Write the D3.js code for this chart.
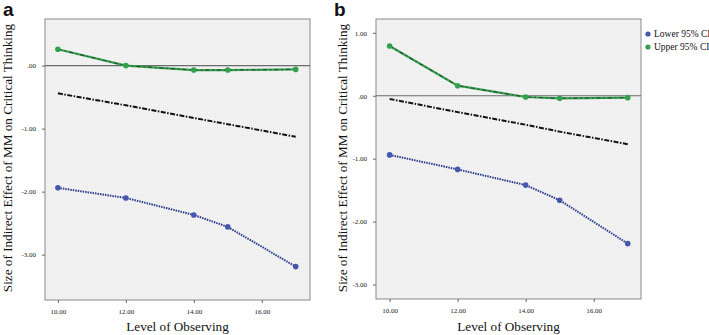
<!DOCTYPE html>
<html>
<head>
<meta charset="utf-8">
<script src="https://cdn.jsdelivr.net/npm/d3@7"></script>
<style>
  body { margin: 0; background: #fff; }
  svg { display: block; }
  .tick text { font-family: "Liberation Serif", serif; font-size: 7px; fill: #222; }
  .axis-title { font-family: "Liberation Serif", serif; font-size: 13.2px; fill: #111; }
  .panel-letter { font-family: "Liberation Sans", Arial, sans-serif; font-weight: bold; font-size: 19px; fill: #111; }
  .legend text { font-family: "Liberation Serif", serif; font-size: 9.5px; fill: #111; }
</style>
</head>
<body>
<div id="chart"></div>
<script>
const levels = [10, 12, 14, 15, 17]
const xTicks = [10, 12, 14, 16]

// panel a
const upperA = [0.26, 0.0, -0.07, -0.07, -0.06]
const effectA = [-0.44, -0.63, -0.83, -0.93, -1.13]
const lowerA = [-1.94, -2.10, -2.37, -2.56, -3.19]
const yTicksA = [0, -1, -2, -3]

// panel b
const upperB = [0.79, 0.16, -0.02, -0.04, -0.03]
const effectB = [-0.05, -0.26, -0.46, -0.57, -0.77]
const lowerB = [-0.94, -1.17, -1.42, -1.66, -2.35]
const yTicksB = [1, 0, -1, -2, -3]

const legendLabels = ["Lower 95% CI", "Upper 95% CI"]

const width = 709, height = 335
const GREEN = "#34a04e", BLUE = "#4556ad"

const svg = d3.select("#chart").append("svg")
    .attr("width", width)
    .attr("height", height)

// dotted grey fill like the SPSS plot area
const defs = svg.append("defs")
const pat = defs.append("pattern")
    .attr("id", "dots")
    .attr("width", 2).attr("height", 2)
    .attr("patternUnits", "userSpaceOnUse")
pat.append("rect").attr("width", 2).attr("height", 2).attr("fill", "#eeeeee")
pat.append("rect").attr("width", 1).attr("height", 1).attr("fill", "#f8f8f8")

const fmt = v => {
    if (v === 0) return ".00"
    return d3.format(".2f")(v).replace("−", "-")
}

function drawPanel(opt) {
    const x = d3.scaleLinear().domain(opt.xDomain).range([opt.left, opt.right])
    const y = d3.scaleLinear().domain(opt.yDomain).range([opt.bottom, opt.top])
    const g = svg.append("g")

    g.append("rect")
        .attr("x", opt.left).attr("y", opt.top)
        .attr("width", opt.right - opt.left)
        .attr("height", opt.bottom - opt.top)
        .attr("fill", "url(#dots)")
        .attr("stroke", "#8a8a8a")
        .attr("stroke-width", 1)

    // y axis
    g.append("g")
        .attr("transform", `translate(${opt.left},0)`)
        .call(d3.axisLeft(y).tickValues(opt.yTicks).tickFormat(fmt).tickSize(3).tickPadding(6))
        .call(a => a.select(".domain").remove())
        .call(a => a.selectAll("line").attr("stroke", "#666"))

    // x axis
    g.append("g")
        .attr("transform", `translate(0,${opt.bottom})`)
        .call(d3.axisBottom(x).tickValues(xTicks).tickFormat(d3.format(".2f")).tickSize(3).tickPadding(6))
        .call(a => a.select(".domain").remove())
        .call(a => a.selectAll("line").attr("stroke", "#666"))

    // reference line at zero
    g.append("line")
        .attr("x1", opt.left).attr("x2", opt.right)
        .attr("y1", y(0)).attr("y2", y(0))
        .attr("stroke", "#6a6a6a").attr("stroke-width", 1.2)

    const line = vals => d3.line()
        .x((d, i) => x(levels[i]))
        .y(d => y(d))(vals)

    // middle estimate, black dash-dot
    g.append("path")
        .attr("d", line(opt.effect))
        .attr("fill", "none")
        .attr("stroke", "#111")
        .attr("stroke-width", 2)
        .attr("stroke-dasharray", "5,1.5,1.5,1.5")

    // upper CI
    g.append("path")
        .attr("d", line(opt.upper))
        .attr("fill", "none")
        .attr("stroke", GREEN)
        .attr("stroke-width", 2.2)
    g.append("path")
        .attr("d", line(opt.upper))
        .attr("fill", "none")
        .attr("stroke", "#25502f")
        .attr("stroke-width", 1.2)
        .attr("stroke-dasharray", "4,3,1.5,3")

    // lower CI
    g.append("path")
        .attr("d", line(opt.lower))
        .attr("fill", "none")
        .attr("stroke", "#2c3b8c")
        .attr("stroke-width", 2)
        .attr("stroke-dasharray", "1.5,1")

    g.selectAll(".up-dot")
        .data(opt.upper)
        .enter().append("circle")
        .attr("cx", (d, i) => x(levels[i]))
        .attr("cy", d => y(d))
        .attr("r", 2.8)
        .attr("fill", GREEN)

    g.selectAll(".low-dot")
        .data(opt.lower)
        .enter().append("circle")
        .attr("cx", (d, i) => x(levels[i]))
        .attr("cy", d => y(d))
        .attr("r", 2.8)
        .attr("fill", BLUE)

    // titles
    g.append("text")
        .attr("class", "axis-title")
        .attr("transform", `translate(${opt.yTitleX},158) rotate(-90)`)
        .attr("text-anchor", "middle")
        .text("Size of Indirect Effect of MM on Critical Thinking")

    g.append("text")
        .attr("class", "axis-title")
        .attr("x", (opt.left + opt.right) / 2)
        .attr("y", 331)
        .attr("text-anchor", "middle")
        .text("Level of Observing")

    g.append("text")
        .attr("class", "panel-letter")
        .attr("x", opt.letterX)
        .attr("y", 16)
        .text(opt.letter)
}

drawPanel({
    letter: "a", letterX: 3,
    left: 45, right: 310, top: 19, bottom: 300,
    xDomain: [9.62, 17.42], yDomain: [-3.72, 0.74],
    yTicks: yTicksA, yTitleX: 12,
    upper: upperA, effect: effectA, lower: lowerA
})

drawPanel({
    letter: "b", letterX: 334,
    left: 376, right: 641, top: 19, bottom: 299,
    xDomain: [9.6, 17.39], yDomain: [-3.23, 1.22],
    yTicks: yTicksB, yTitleX: 347,
    upper: upperB, effect: effectB, lower: lowerB
})

// legend
const legend = svg.append("g").attr("class", "legend")
legend.selectAll("circle")
    .data(legendLabels)
    .enter().append("circle")
    .attr("cx", 648)
    .attr("cy", (d, i) => 34 + i * 13)
    .attr("r", 2.6)
    .attr("fill", (d, i) => i === 0 ? BLUE : GREEN)
legend.selectAll("text")
    .data(legendLabels)
    .enter().append("text")
    .attr("x", 654)
    .attr("y", (d, i) => 37 + i * 13)
    .text(d => d)
</script>
</body>
</html>
